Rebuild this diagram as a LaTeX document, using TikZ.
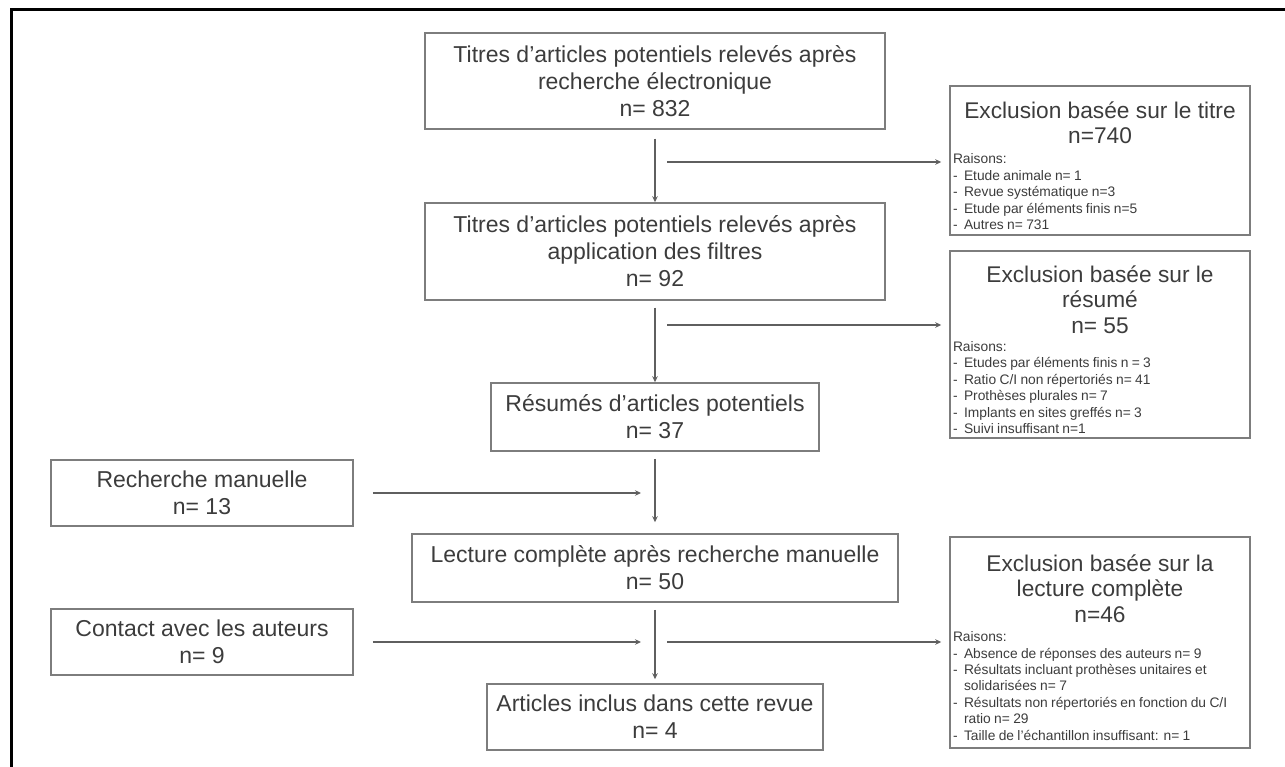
\documentclass[tikz,border=0pt]{standalone}
\usepackage{fontspec}
\setmainfont{Liberation Sans}
\usetikzlibrary{arrows.meta}
\setlength{\parindent}{0pt}

\definecolor{bordure}{RGB}{125,125,125}
\definecolor{texte}{RGB}{60,60,60}
\definecolor{trait}{RGB}{95,95,95}

\newcommand{\titrefont}{\fontsize{22.7}{25.5}\selectfont\spaceskip=0.28em\relax}
\newcommand{\petitfont}{\fontsize{13.8}{16.4}\selectfont}
\newcommand{\raison}[1]{\par\hangindent=11pt\hangafter=1\makebox[11pt][l]{-}#1}
\newcommand{\finbloc}{\endgraf\vspace{-10pt}}

\begin{document}
\begin{tikzpicture}[x=1pt, y=-1pt,
    etape/.style={draw=bordure, line width=1.5pt, align=center, text=texte,
                  font=\fontsize{23}{27}\selectfont, inner sep=2pt},
    exclusion/.style={draw=bordure, line width=1.5pt, text=texte,
                      text width=294pt, inner sep=3pt,
                      execute at end node=\finbloc},
    fleche/.style={->, >={Stealth[length=6pt, width=5.5pt]}, line width=1.6pt, draw=trait}
]
    \useasboundingbox (0,0) rectangle (1285,767);
    \draw[line width=3pt] (11,767) -- (11,10) -- (1285,10);

    % colonne centrale
    \node[etape, minimum width=460pt, minimum height=96pt] (titres) at (655,81)
        {Titres d’articles potentiels relevés après\\ recherche électronique\\ n= 832};
    \node[etape, minimum width=460pt, minimum height=97pt] (filtres) at (655,251.5)
        {Titres d’articles potentiels relevés après\\ application des filtres\\ n= 92};
    \node[etape, minimum width=328pt, minimum height=68pt] (resumes) at (655,417)
        {Résumés d’articles potentiels\\ n= 37};
    \node[etape, minimum width=486pt, minimum height=68pt] (lecture) at (655,568)
        {Lecture complète après recherche manuelle\\ n= 50};
    \node[etape, minimum width=336pt, minimum height=66pt] (inclus) at (655,717)
        {Articles inclus dans cette revue\\ n= 4};

    % sources ajoutees
    \node[etape, minimum width=302pt, minimum height=66pt] (manuelle) at (202,493)
        {Recherche manuelle\\ n= 13};
    \node[etape, minimum width=302pt, minimum height=66pt] (contact) at (202,642)
        {Contact avec les auteurs\\ n= 9};

    % exclusions
    \node[exclusion, minimum height=149pt] (excl1) at (1100,160.5)
        {{\centering\titrefont Exclusion basée sur le titre\\ n=740\par}
         \vspace{4pt}
         {\raggedright\petitfont Raisons:
          \raison{Etude animale n= 1}
          \raison{Revue systématique n=3}
          \raison{Etude par éléments finis n=5}
          \raison{Autres n= 731}\par}};
    \node[exclusion, minimum height=187pt] (excl2) at (1100,344.5)
        {{\centering\titrefont Exclusion basée sur le\\ résumé\\ n= 55\par}
         \vspace{2pt}
         {\raggedright\petitfont Raisons:
          \raison{Etudes par éléments finis n = 3}
          \raison{Ratio C/I non répertoriés n= 41}
          \raison{Prothèses plurales n= 7}
          \raison{Implants en sites greffés n= 3}
          \raison{Suivi insuffisant n=1}\par}};
    \node[exclusion, minimum height=211pt] (excl3) at (1100,642.5)
        {{\centering\titrefont Exclusion basée sur la\\ lecture complète\\ n=46\par}
         \vspace{3pt}
         {\raggedright\petitfont Raisons:
          \raison{Absence de réponses des auteurs n= 9}
          \raison{Résultats incluant prothèses unitaires et solidarisées n= 7}
          \raison{Résultats non répertoriés en fonction du C/I ratio n= 29}
          \raison{Taille de l’échantillon insuffisant: n= 1}\par}};

    \coordinate (j1) at (655,162);
    \coordinate (j2) at (655,325);
    \coordinate (j3) at (contact.east -| lecture.south);

    \draw[fleche, shorten <=9pt] (titres) -- (filtres);
    \draw[fleche, shorten <=7pt] (filtres) -- (resumes);
    \draw[fleche, shorten <=7pt, shorten >=11pt] (resumes) -- (lecture);
    \draw[fleche, shorten <=7pt, shorten >=4pt] (lecture) -- (inclus);

    \draw[fleche, shorten <=12pt, shorten >=8pt] (j1) -- (j1 -| excl1.west);
    \draw[fleche, shorten <=12pt, shorten >=8pt] (j2) -- (j2 -| excl2.west);
    \draw[fleche, shorten <=12pt, shorten >=8pt] (j3) -- (j3 -| excl3.west);

    \draw[fleche, shorten <=19pt, shorten >=14pt] (manuelle.east) -- (manuelle.east -| resumes.south);
    \draw[fleche, shorten <=19pt, shorten >=14pt] (contact.east) -- (j3);
\end{tikzpicture}
\end{document}
